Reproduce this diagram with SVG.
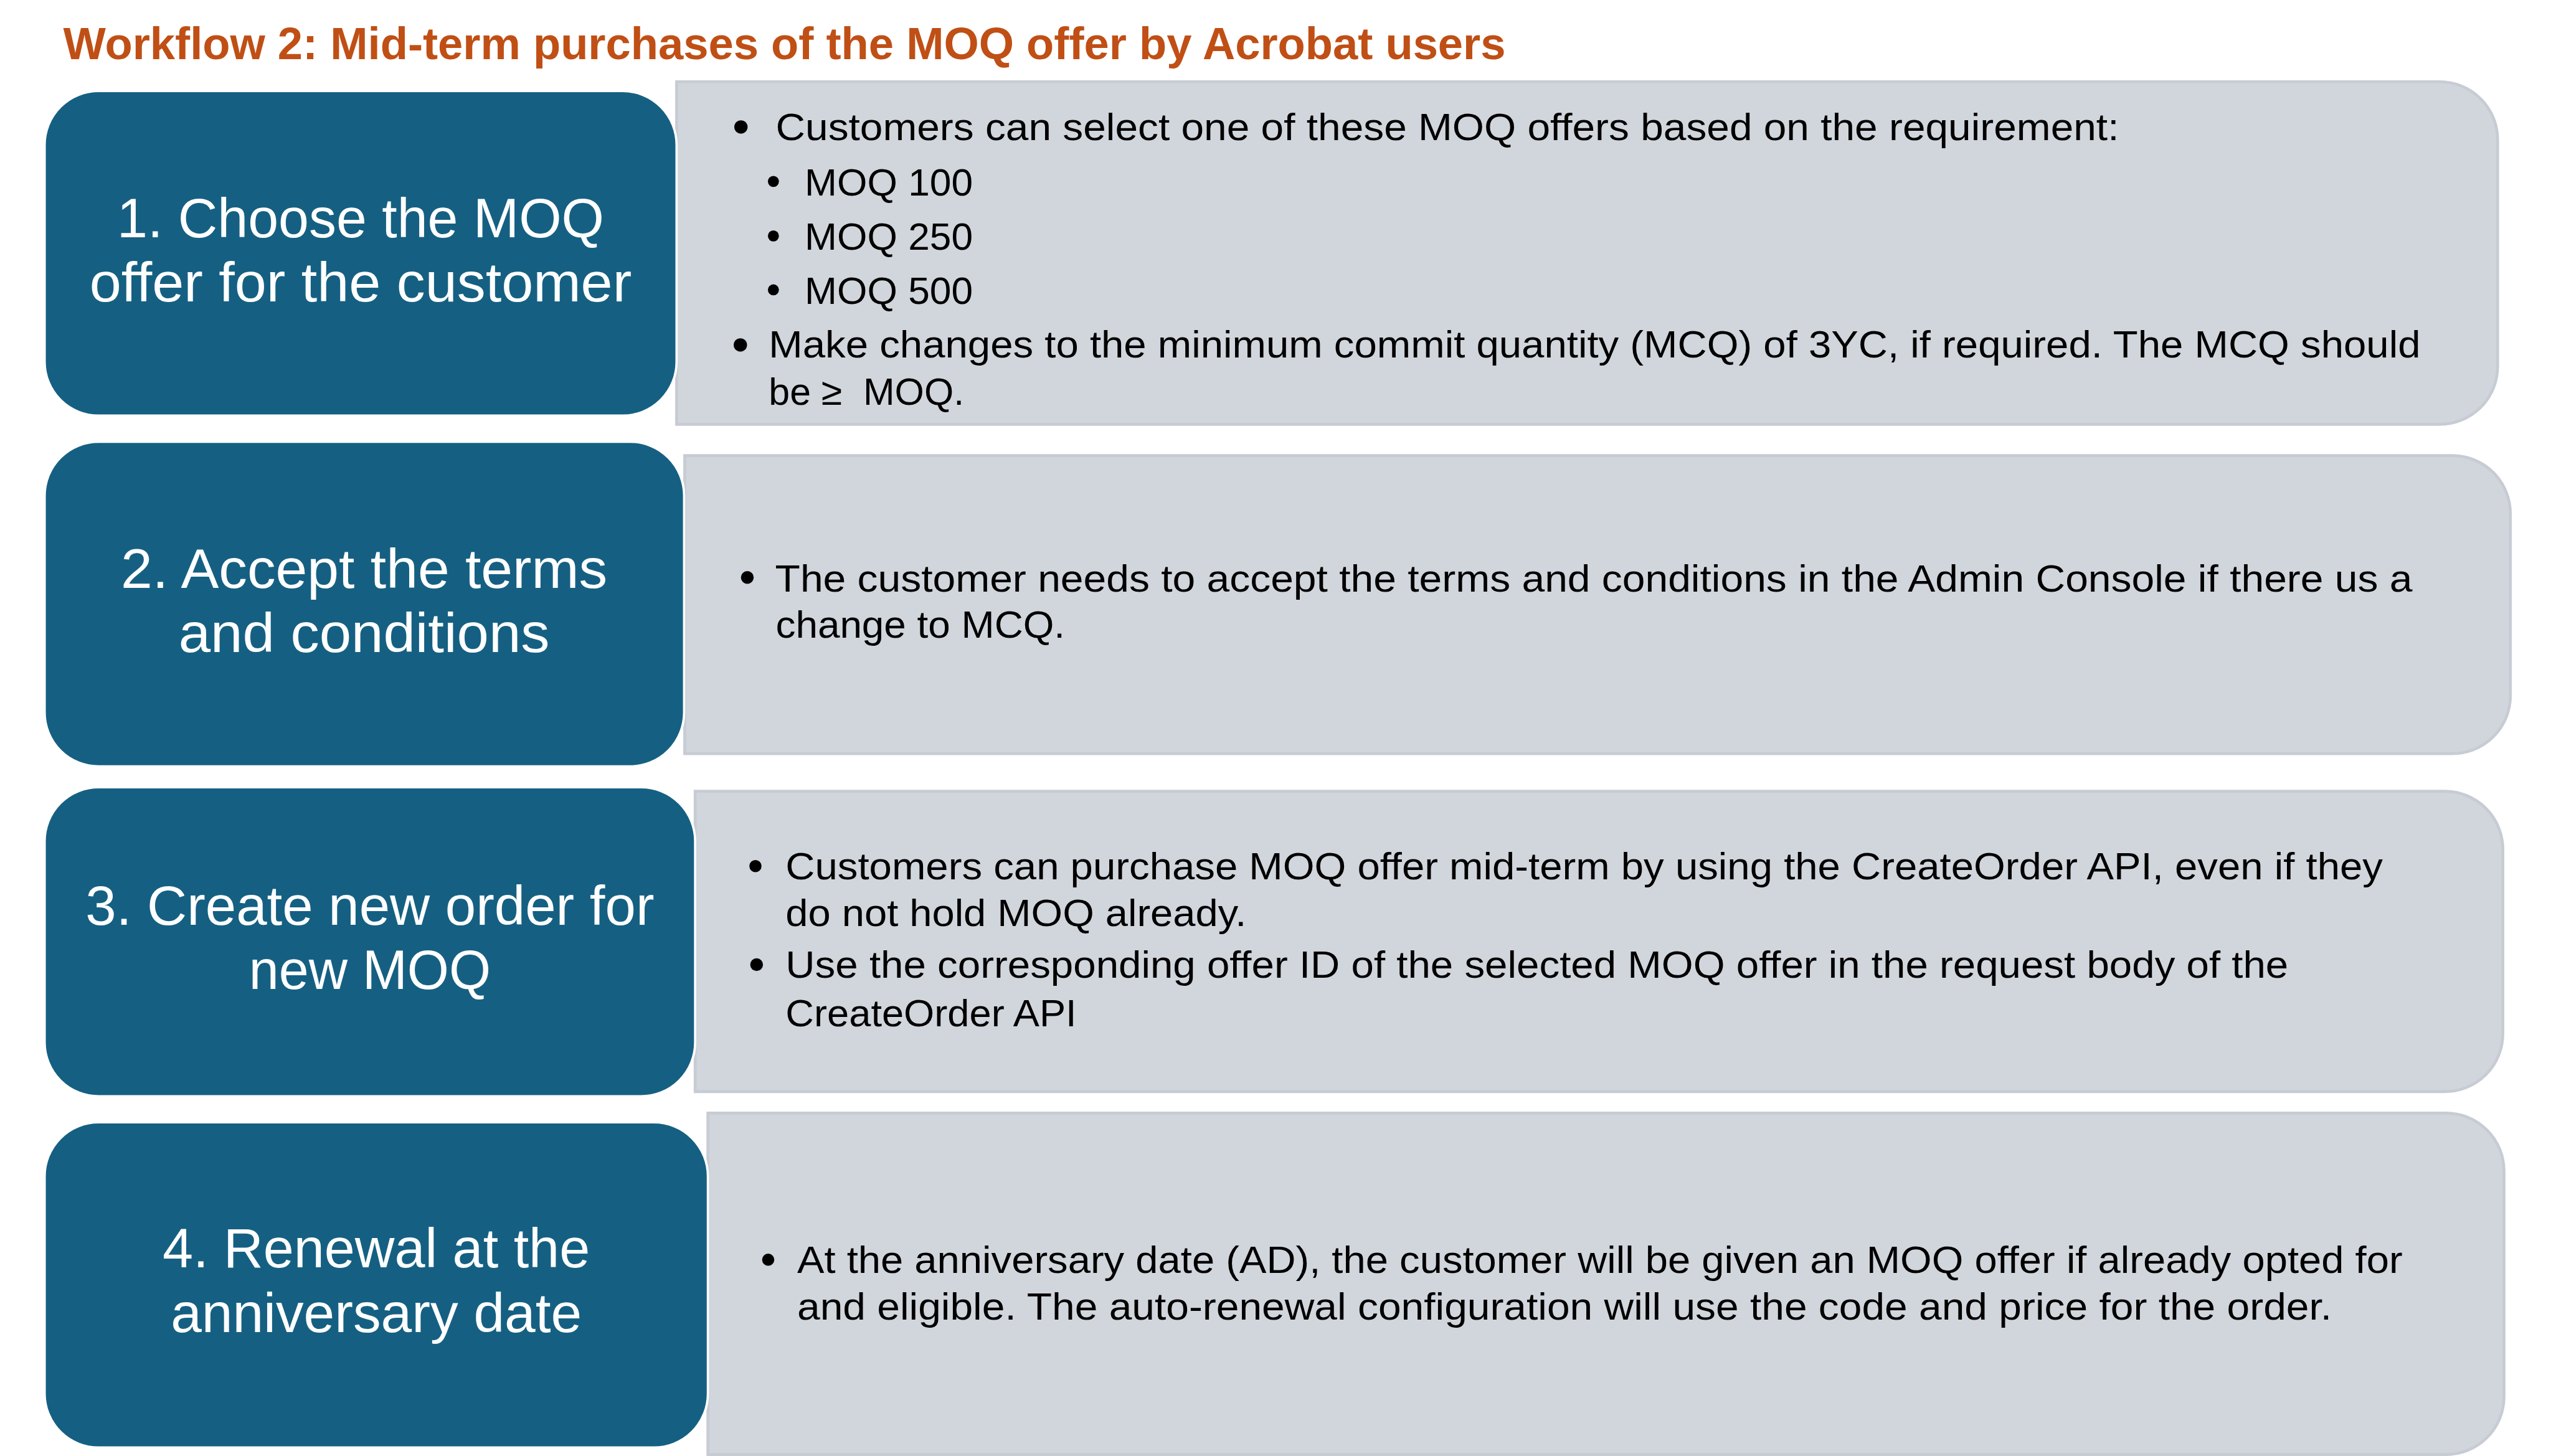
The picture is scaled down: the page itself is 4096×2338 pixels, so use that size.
<svg xmlns="http://www.w3.org/2000/svg" width="4096" height="2338" viewBox="0 0 4096 2338">
<style>
.title{font-family:"Liberation Sans",Arial,sans-serif;font-weight:bold;font-size:78px;fill:#C04F15}
.step{fill:#156082;stroke:#FFFFFF;stroke-width:4}
.steptxt{font-family:"Liberation Sans",Arial,sans-serif;font-size:95px;fill:#FFFFFF;text-anchor:middle}
.panel{fill:#D1D5DC;stroke:#C7CCD4;stroke-width:5}
.body{font-family:"Liberation Sans",Arial,sans-serif;font-size:66px;fill:#000000}
.dot{fill:#000000}
</style>
<rect x="0" y="0" width="4096" height="2338" fill="#FFFFFF"/>
<g transform="scale(0.9309)">
<text class="title" x="109" y="102" textLength="2488" lengthAdjust="spacingAndGlyphs">Workflow 2: Mid-term purchases of the MOQ offer by Acrobat users</text>

<g id="panel1">
<path class="panel" d="M1167,141 H4208 A100,100 0 0 1 4308,241 V632 A100,100 0 0 1 4208,732 H1167 Z"/>
<circle class="dot" cx="1278" cy="219" r="11.5"/>
<text class="body" x="1338" y="242" textLength="2317" lengthAdjust="spacingAndGlyphs">Customers can select one of these MOQ offers based on the requirement:</text>
<circle class="dot" cx="1334" cy="313" r="9.5"/>
<text class="body" x="1388" y="337" textLength="290" lengthAdjust="spacingAndGlyphs">MOQ 100</text>
<circle class="dot" cx="1334" cy="407" r="9.5"/>
<text class="body" x="1388" y="431" textLength="290" lengthAdjust="spacingAndGlyphs">MOQ 250</text>
<circle class="dot" cx="1334" cy="500" r="9.5"/>
<text class="body" x="1388" y="524" textLength="290" lengthAdjust="spacingAndGlyphs">MOQ 500</text>
<circle class="dot" cx="1277" cy="595" r="11.5"/>
<text class="body" x="1326" y="617" textLength="2849" lengthAdjust="spacingAndGlyphs">Make changes to the minimum commit quantity (MCQ) of 3YC, if required. The MCQ should</text>
<text class="body" x="1326" y="698" textLength="337" lengthAdjust="spacingAndGlyphs" xml:space="preserve">be ≥  MOQ.</text>
</g>

<g id="panel2">
<path class="panel" d="M1181,786 H4230 A100,100 0 0 1 4330,886 V1200 A100,100 0 0 1 4230,1300 H1181 Z"/>
<circle class="dot" cx="1289" cy="996" r="11"/>
<text class="body" x="1337" y="1020" textLength="2824" lengthAdjust="spacingAndGlyphs">The customer needs to accept the terms and conditions in the Admin Console if there us a</text>
<text class="body" x="1338" y="1100" textLength="499" lengthAdjust="spacingAndGlyphs">change to MCQ.</text>
</g>

<g id="panel3">
<path class="panel" d="M1199,1365 H4217 A100,100 0 0 1 4317,1465 V1783 A100,100 0 0 1 4217,1883 H1199 Z"/>
<circle class="dot" cx="1303" cy="1494" r="10.5"/>
<text class="body" x="1355" y="1517" textLength="2755" lengthAdjust="spacingAndGlyphs">Customers can purchase MOQ offer mid-term by using the CreateOrder API, even if they</text>
<text class="body" x="1355" y="1597" textLength="795" lengthAdjust="spacingAndGlyphs">do not hold MOQ already.</text>
<circle class="dot" cx="1305" cy="1664" r="11"/>
<text class="body" x="1355" y="1687" textLength="2592" lengthAdjust="spacingAndGlyphs">Use the corresponding offer ID of the selected MOQ offer in the request body of the</text>
<text class="body" x="1355" y="1770" textLength="502" lengthAdjust="spacingAndGlyphs">CreateOrder API</text>
</g>

<g id="panel4">
<path class="panel" d="M1221,1920 H4219 A100,100 0 0 1 4319,2020 V2409 A100,100 0 0 1 4219,2509 H1221 Z"/>
<circle class="dot" cx="1325" cy="2173" r="10.5"/>
<text class="body" x="1375" y="2196" textLength="2769" lengthAdjust="spacingAndGlyphs">At the anniversary date (AD), the customer will be given an MOQ offer if already opted for</text>
<text class="body" x="1375" y="2276" textLength="2647" lengthAdjust="spacingAndGlyphs">and eligible. The auto-renewal configuration will use the code and price for the order.</text>
</g>

<g id="step1">
<rect class="step" x="77" y="157" width="1090" height="560" rx="93" ry="93"/>
<text class="steptxt" x="622" y="409" textLength="840" lengthAdjust="spacingAndGlyphs">1. Choose the MOQ</text>
<text class="steptxt" x="622" y="520" textLength="935" lengthAdjust="spacingAndGlyphs">offer for the customer</text>
</g>

<g id="step2">
<rect class="step" x="77" y="762" width="1103" height="560" rx="93" ry="93"/>
<text class="steptxt" x="628" y="1014" textLength="839" lengthAdjust="spacingAndGlyphs">2. Accept the terms</text>
<text class="steptxt" x="628" y="1125" textLength="640" lengthAdjust="spacingAndGlyphs">and conditions</text>
</g>

<g id="step3">
<rect class="step" x="77" y="1358" width="1122" height="533" rx="93" ry="93"/>
<text class="steptxt" x="638" y="1595" textLength="981" lengthAdjust="spacingAndGlyphs">3. Create new order for</text>
<text class="steptxt" x="638" y="1706" textLength="417" lengthAdjust="spacingAndGlyphs">new MOQ</text>
</g>

<g id="step4">
<rect class="step" x="77" y="1936" width="1144" height="561" rx="93" ry="93"/>
<text class="steptxt" x="649" y="2186" textLength="737" lengthAdjust="spacingAndGlyphs">4. Renewal at the</text>
<text class="steptxt" x="649" y="2298" textLength="709" lengthAdjust="spacingAndGlyphs">anniversary date</text>
</g>

<g id="connectors"></g>
</g>
</svg>
